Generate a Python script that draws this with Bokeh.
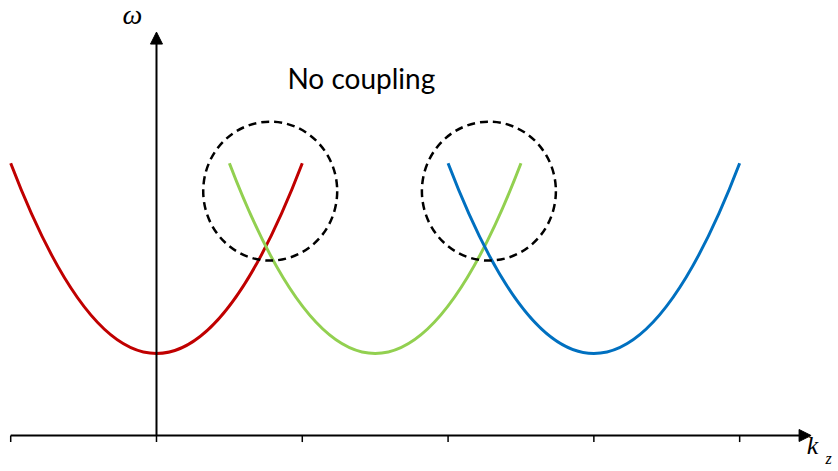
from bokeh.plotting import figure
from bokeh.models import Range1d, Arrow, NormalHead, ColumnDataSource
from bokeh.core.properties import value
from bokeh.embed import file_html
from bokeh.resources import INLINE

# Dispersion branches: omega(kz) parabolas, shifted copies along kz
band_centers = [0.0, 1.5, 3.0]
band_colors = ["#C00000", "#92D050", "#0070C0"]
omega_min = [1.0, 1.0, 1.0]
omega_edge = [3.32, 3.32, 3.32]
half_width = 1.0

# Crossing regions highlighted with dashed circles
crossing_k = [0.78, 2.28]
crossing_omega = [2.98, 2.98]

# kz tick positions
tick_k = [-1, 0, 1, 2, 3, 4]

# Axis extents
k_axis_start, k_axis_end = -1.0, 4.49
omega_axis_end = 4.92

p = figure(width=838, height=471, output_backend="svg", toolbar_location=None,
           x_range=Range1d(-1.07, 4.678), y_range=Range1d(-0.439, 5.305),
           x_axis_location=None, y_axis_location=None, min_border=0)
p.grid.visible = False
p.outline_line_color = None
p.background_fill_color = "white"

# Each parabola is drawn as a quadratic Bezier: control point below the vertex
bands = ColumnDataSource(dict(
    x0=[c - half_width for c in band_centers],
    x1=[c + half_width for c in band_centers],
    y0=omega_edge,
    y1=omega_edge,
    cx=band_centers,
    cy=[2 * m - e for m, e in zip(omega_min, omega_edge)],
    color=band_colors,
))
p.quadratic(x0="x0", y0="y0", x1="x1", y1="y1", cx="cx", cy="cy",
            line_color="color", line_width=3, source=bands)

# Dashed circles around the band crossings
p.ellipse(x=crossing_k, y=crossing_omega, width=134, height=139,
          width_units="screen", height_units="screen",
          fill_color=None, line_color="black", line_width=2.5, line_dash="8 5")

# Axes with arrow heads
p.add_layout(Arrow(x_start=k_axis_start, y_start=0, x_end=k_axis_end, y_end=0,
                   line_width=2, line_color="black",
                   end=NormalHead(size=12, fill_color="black", line_color="black")))
p.add_layout(Arrow(x_start=0, y_start=0, x_end=0, y_end=omega_axis_end,
                   line_width=2, line_color="black",
                   end=NormalHead(size=12, fill_color="black", line_color="black")))

# Tick marks below the kz axis
p.segment(x0=tick_k, y0=[0] * len(tick_k), x1=tick_k, y1=[-0.08] * len(tick_k),
          line_color="black", line_width=1.5)

# Axis labels
p.text(x=[-0.165], y=[5.134], text=["ω"], text_font=value("Liberation Serif"),
       text_font_style="italic", text_font_size="28px", text_align="center",
       text_baseline="alphabetic", text_color="black")
p.text(x=[4.46], y=[-0.122], text=["k"], text_font=value("Liberation Serif"),
       text_font_style="italic", text_font_size="26px", text_align="left",
       text_baseline="alphabetic", text_color="black")
p.text(x=[4.588], y=[-0.28], text=["z"], text_font=value("Liberation Serif"),
       text_font_style="italic", text_font_size="16px", text_align="left",
       text_baseline="alphabetic", text_color="black")

# Annotation
p.text(x=[0.898], y=[4.354], text=["No coupling"], text_font=value("Lato"),
       text_font_size="28px", text_align="left", text_baseline="alphabetic",
       text_color="black")

open("out.html", "w").write(file_html(p, INLINE))
